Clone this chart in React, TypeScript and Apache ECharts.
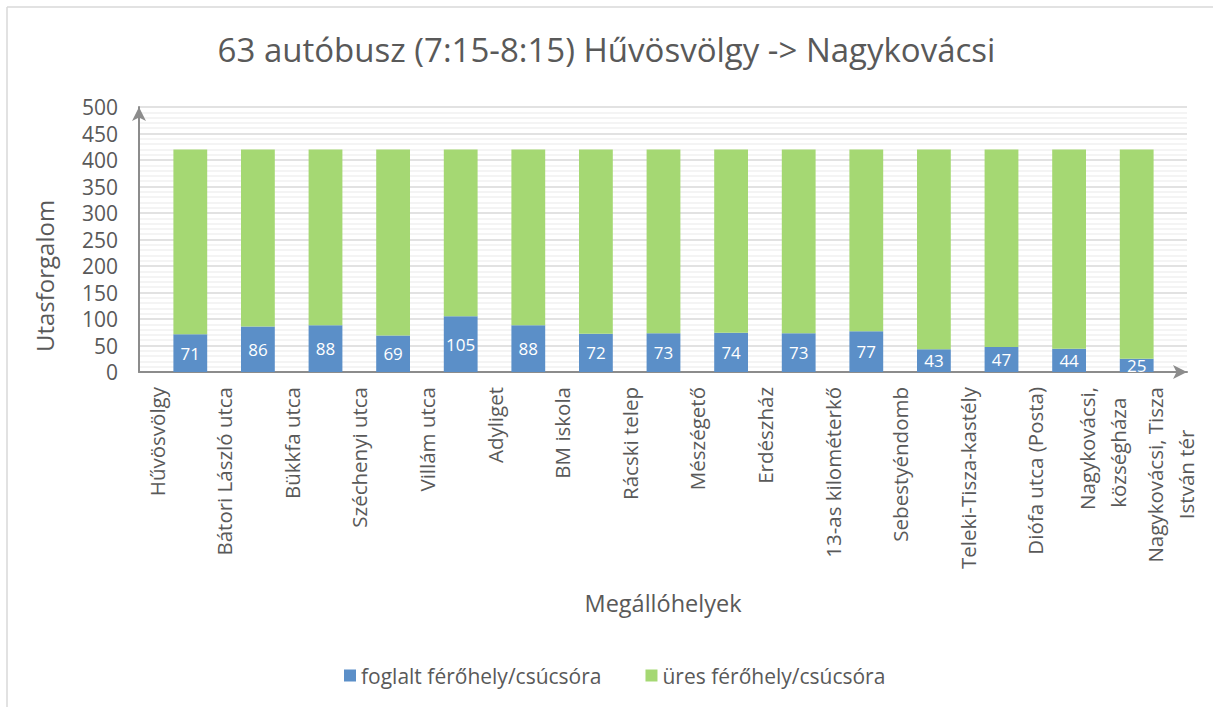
import React, { useEffect, useRef } from "react";
import * as echarts from "echarts";

const stops = [
  "Hűvösvölgy",
  "Bátori László utca",
  "Bükkfa utca",
  "Széchenyi utca",
  "Villám utca",
  "Adyliget",
  "BM iskola",
  "Rácski telep",
  "Mészégető",
  "Erdészház",
  "13-as kilométerkő",
  "Sebestyéndomb",
  "Teleki-Tisza-kastély",
  "Diófa utca (Posta)",
  "Nagykovácsi,\nközségháza\u00a0\u00a0",
  "Nagykovácsi, Tisza\nIstván tér\u00a0\u00a0\u00a0\u00a0\u00a0\u00a0\u00a0\u00a0",
];

const segments = [
  "1", "2", "3", "4", "5", "6", "7", "8", "9", "10", "11", "12", "13", "14", "15",
];

const occupied = [71, 86, 88, 69, 105, 88, 72, 73, 74, 73, 77, 43, 47, 44, 25];
const empty = [349, 334, 332, 351, 315, 332, 348, 347, 346, 347, 343, 377, 373, 376, 395];

const yTicks = { min: 0, max: 500, interval: 50 };

const FONT = "'Open Sans', sans-serif";
const TXT = "#595959";
const BLUE = "#5B8FC8";
const GREEN = "#A5D873";
const AXIS = "#8C8C8C";

export default function App() {
  const ref = useRef<HTMLDivElement>(null);
  useEffect(() => {
    if (!ref.current) return;
    const chart = echarts.init(ref.current, undefined, { renderer: "svg" });
    chart.setOption({
      animation: false,
      backgroundColor: "#ffffff",
      textStyle: { fontFamily: FONT },
      title: {
        text: "63 autóbusz (7:15-8:15) Hűvösvölgy -> Nagykovácsi",
        left: "center",
        top: 28,
        textStyle: { fontFamily: FONT, fontSize: 33, fontWeight: "normal", color: TXT },
      },
      legend: {
        left: 339,
        top: 660,
        itemWidth: 12,
        itemHeight: 12,
        itemGap: 44,
        icon: "rect",
        textStyle: { fontFamily: FONT, fontSize: 21, color: TXT },
        data: ["foglalt férőhely/csúcsóra", "üres férőhely/csúcsóra"],
      },
      graphic: [
        { type: "line", shape: { x1: 7, y1: 7, x2: 1213, y2: 7 }, style: { stroke: "#d9d9d9", lineWidth: 1.5 } },
        { type: "line", shape: { x1: 7, y1: 7, x2: 7, y2: 707 }, style: { stroke: "#d9d9d9", lineWidth: 1.5 } },
        {
          type: "text",
          x: 44,
          y: 276,
          rotation: Math.PI / 2,
          style: { text: "Utasforgalom", font: `24px ${FONT}`, fill: TXT, align: "center", verticalAlign: "middle" },
        },
        {
          type: "text",
          x: 663,
          y: 603,
          style: { text: "Megállóhelyek", font: `23.5px ${FONT}`, fill: TXT, align: "center", verticalAlign: "middle" },
        },
      ],
      grid: [
        { left: 139, right: 26, top: 107, bottom: 335 },
        { left: 156.5, right: 42.5, top: 107, bottom: 335 },
      ],
      xAxis: [
        {
          gridIndex: 0,
          type: "value",
          min: 0,
          max: 1,
          axisLabel: { show: false },
          axisTick: { show: false },
          splitLine: { show: false },
          axisLine: {
            show: true,
            symbol: ["none", "arrow"],
            symbolSize: [10.5, 14],
            symbolOffset: [0, 0],
            lineStyle: { color: AXIS, width: 2 },
          },
        },
        {
          gridIndex: 1,
          type: "category",
          data: segments,
          show: false,
        },
        {
          gridIndex: 1,
          type: "category",
          data: stops,
          boundaryGap: false,
          position: "bottom",
          axisLine: { show: false },
          axisTick: { show: false },
          axisLabel: {
            interval: 0,
            rotate: 90,
            margin: 15,
            fontFamily: FONT,
            fontSize: 20.5,
            color: TXT,
            lineHeight: 31,
          },
        },
      ],
      yAxis: [
        {
          gridIndex: 0,
          type: "value",
          min: yTicks.min,
          max: yTicks.max,
          interval: yTicks.interval,
          axisLine: {
            show: true,
            symbol: ["none", "arrow"],
            symbolSize: [10.5, 14],
            symbolOffset: [0, 0],
            lineStyle: { color: AXIS, width: 2 },
          },
          axisTick: { show: false },
          axisLabel: { margin: 21, fontFamily: FONT, fontSize: 21, color: TXT },
          splitLine: { show: true, lineStyle: { color: "#d9d9d9", width: 1.5 } },
          minorTick: { show: false, splitNumber: 5 },
          minorSplitLine: { show: true, lineStyle: { color: "#f0f0f0", width: 1.5 } },
        },
        {
          gridIndex: 1,
          type: "value",
          min: yTicks.min,
          max: yTicks.max,
          show: false,
          splitLine: { show: false },
        },
      ],
      series: [
        {
          name: "foglalt férőhely/csúcsóra",
          type: "bar",
          stack: "total",
          xAxisIndex: 1,
          yAxisIndex: 1,
          barWidth: "50%",
          itemStyle: { color: BLUE },
          label: { show: true, position: "inside", color: "#ffffff", fontFamily: FONT, fontSize: 17 },
          data: occupied,
        },
        {
          name: "üres férőhely/csúcsóra",
          type: "bar",
          stack: "total",
          xAxisIndex: 1,
          yAxisIndex: 1,
          barWidth: "50%",
          itemStyle: { color: GREEN },
          data: empty,
        },
      ],
    });
    return () => chart.dispose();
  }, []);
  return (
    <div
      ref={ref}
      style={{ position: "fixed", left: 0, top: 0, width: 1213, height: 707 }}
    />
  );
}
